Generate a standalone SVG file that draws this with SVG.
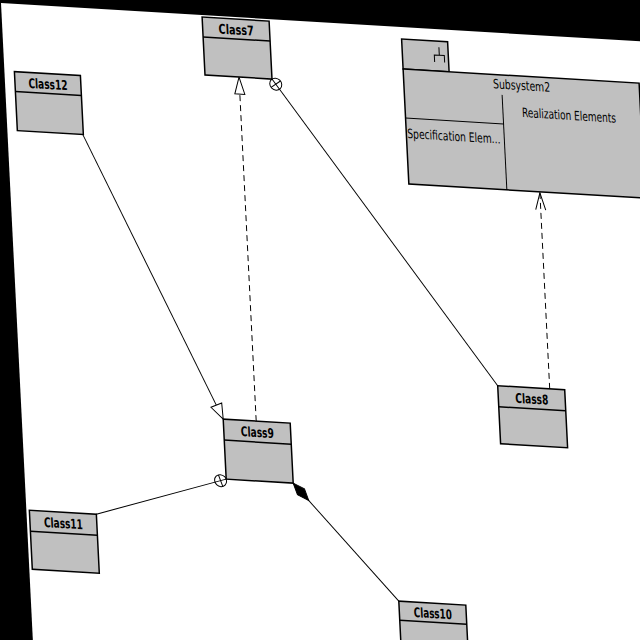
<svg xmlns="http://www.w3.org/2000/svg" width="640" height="640" viewBox="0 0 640 640">
<style>
.box{fill:#c0c0c0;stroke:#000;stroke-width:1.5}
.sep{fill:none;stroke:#000;stroke-width:1.5}
.ln{fill:none;stroke:#000;stroke-width:1}
.dash{fill:none;stroke:#000;stroke-width:1;stroke-dasharray:6 4}
.hollow{fill:#fff;stroke:#000;stroke-width:1}
.solid{fill:#000;stroke:#000;stroke-width:1}
.cn{font-family:"DejaVu Sans Condensed","DejaVu Sans",sans-serif;font-weight:bold;font-size:13.5px;text-anchor:middle;fill:#000}
.tx{font-family:"DejaVu Sans Condensed","DejaVu Sans",sans-serif;font-size:13px;fill:#000}
</style>
<rect x="0" y="0" width="640" height="640" fill="#000"/>
<g transform="matrix(1,0.06,0.05,1,1,3)">
<rect x="0" y="0" width="800" height="800" fill="#fff"/>
<g id="connectors">
<line class="ln" x1="75.6" y1="127.4" x2="195.8" y2="390.4"/>
<polygon class="hollow" points="202,404 190.3,392.9 201.3,387.9"/>
<line class="dash" x1="235" y1="404" x2="235" y2="77"/>
<polygon class="hollow" points="235,60 230,77 240,77"/>
<line class="ln" x1="268" y1="60" x2="479" y2="354"/>
<circle class="hollow" cx="271.5" cy="64.9" r="6"/>
<line class="ln" x1="268" y1="60" x2="275" y2="69.8"/>
<line class="ln" x1="266.6" y1="68.4" x2="276.4" y2="61.4"/>
<line class="dash" x1="531" y1="354" x2="531" y2="158"/>
<polyline class="ln" points="526,175 531,158 536,175"/>
<line class="ln" x1="202" y1="464" x2="70" y2="507"/>
<circle class="hollow" cx="196.3" cy="465.9" r="6"/>
<line class="ln" x1="202" y1="464" x2="190.6" y2="467.7"/>
<line class="ln" x1="194.4" y1="460.2" x2="198.2" y2="471.6"/>
<line class="ln" x1="269" y1="464" x2="369" y2="576"/>
<polygon class="solid" points="269,464 280.0,469.1 283.7,480.4 272.7,475.3"/>
</g>
<g id="Class7">
<rect class="box" x="201" y="2" width="67" height="58"/>
<line class="sep" x1="201" y1="22" x2="268" y2="22"/>
<text class="cn" x="234.5" y="17.5" textLength="35" lengthAdjust="spacingAndGlyphs">Class7</text>
</g>
<g id="Class12">
<rect class="box" x="10" y="68" width="66" height="59"/>
<line class="sep" x1="10" y1="88" x2="76" y2="88"/>
<text class="cn" x="43" y="83.5" textLength="39" lengthAdjust="spacingAndGlyphs">Class12</text>
</g>
<g id="Class9">
<rect class="box" x="202" y="404" width="67" height="60"/>
<line class="sep" x1="202" y1="425" x2="269" y2="425"/>
<text class="cn" x="235.5" y="420" textLength="33" lengthAdjust="spacingAndGlyphs">Class9</text>
</g>
<g id="Class11">
<rect class="box" x="3" y="507" width="67" height="59"/>
<line class="sep" x1="3" y1="528" x2="70" y2="528"/>
<text class="cn" x="36.5" y="523" textLength="39" lengthAdjust="spacingAndGlyphs">Class11</text>
</g>
<g id="Class10">
<rect class="box" x="369" y="576" width="67" height="59"/>
<line class="sep" x1="369" y1="595" x2="436" y2="595"/>
<text class="cn" x="402.5" y="591" textLength="38" lengthAdjust="spacingAndGlyphs">Class10</text>
</g>
<g id="Class8">
<rect class="box" x="479" y="354" width="67" height="58"/>
<line class="sep" x1="479" y1="375" x2="546" y2="375"/>
<text class="cn" x="512.5" y="370" textLength="33" lengthAdjust="spacingAndGlyphs">Class8</text>
</g>
<g id="Subsystem2">
<rect class="box" x="400" y="12" width="46" height="30"/>
<rect class="box" x="400" y="42" width="236" height="115"/>
<polyline class="ln" points="437,18 437,26"/>
<polyline class="ln" points="432,33 432,26 442,26 442,33"/>
<line class="ln" x1="498" y1="62" x2="498" y2="157"/>
<line class="ln" x1="400" y1="91" x2="498" y2="91"/>
<text class="tx" x="518" y="56" text-anchor="middle" textLength="57" lengthAdjust="spacingAndGlyphs">Subsystem2</text>
<text class="tx" x="564" y="83" text-anchor="middle" textLength="94" lengthAdjust="spacingAndGlyphs">Realization Elements</text>
<text class="tx" x="401" y="111" textLength="93" lengthAdjust="spacingAndGlyphs">Specification Elem...</text>
</g>
</g>
</svg>
